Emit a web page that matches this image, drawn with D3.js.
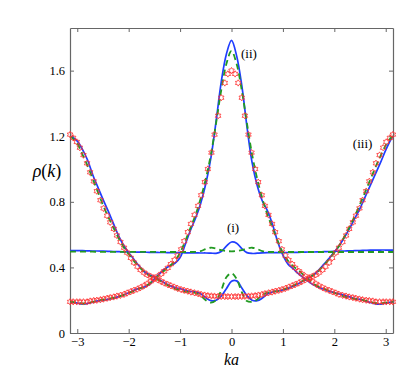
<!DOCTYPE html>
<html>
<head>
<meta charset="utf-8">
<script src="https://cdn.jsdelivr.net/npm/d3@7"></script>
<style>
  body { margin: 0; background: #fff; }
</style>
</head>
<body>
<div id="chart"></div>
<script>
// k grid for the solid / dashed curves
const kLine = [-3.1416, -3.1, -3.0, -2.9, -2.8, -2.7, -2.6, -2.5, -2.4, -2.3, -2.2, -2.1, -2.0,
  -1.9, -1.8, -1.7, -1.6, -1.5, -1.4, -1.3, -1.2, -1.1, -1.0, -0.9, -0.8, -0.7, -0.6, -0.5,
  -0.4, -0.3, -0.2, -0.1, 0, 0.1, 0.2, 0.3, 0.4, 0.5, 0.6, 0.7, 0.8, 0.9, 1.0, 1.1, 1.2, 1.3,
  1.4, 1.5, 1.6, 1.7, 1.8, 1.9, 2.0, 2.1, 2.2, 2.3, 2.4, 2.5, 2.6, 2.7, 2.8, 2.9, 3.0, 3.1, 3.1416];

const blueI = [0.502, 0.502, 0.502, 0.502, 0.501, 0.500, 0.500, 0.499, 0.498, 0.497, 0.496, 0.495, 0.494,
  0.494, 0.493, 0.493, 0.492, 0.492, 0.491, 0.491, 0.490, 0.490, 0.490, 0.489, 0.489, 0.489, 0.488, 0.488,
  0.487, 0.486, 0.497, 0.530, 0.555, 0.548, 0.515, 0.490, 0.485, 0.487, 0.489, 0.490, 0.490, 0.490, 0.491, 0.491, 0.492, 0.492,
  0.493, 0.494, 0.494, 0.495, 0.496, 0.497, 0.498, 0.499, 0.500, 0.501, 0.502, 0.503, 0.504, 0.505, 0.505, 0.506, 0.506, 0.506, 0.506];

const greenI = [0.496, 0.496, 0.496, 0.496, 0.496, 0.496, 0.495, 0.495, 0.495, 0.495, 0.495, 0.495, 0.495,
  0.495, 0.495, 0.495, 0.495, 0.495, 0.494, 0.494, 0.494, 0.494, 0.494, 0.494, 0.494, 0.495, 0.500, 0.512,
  0.520, 0.515, 0.505, 0.500, 0.498, 0.500, 0.505, 0.515, 0.520, 0.512, 0.500, 0.495, 0.494, 0.494, 0.494, 0.494, 0.494, 0.494,
  0.494, 0.494, 0.494, 0.494, 0.494, 0.494, 0.494, 0.494, 0.494, 0.494, 0.494, 0.494, 0.494, 0.494, 0.494, 0.494, 0.494, 0.494, 0.494];

const blueII = [0.190, 0.188, 0.182, 0.177, 0.180, 0.188, 0.196, 0.200, 0.205, 0.212, 0.222, 0.232, 0.245,
  0.260, 0.272, 0.280, 0.295, 0.330, 0.362, 0.390, 0.410, 0.425, 0.460, 0.540, 0.625, 0.700, 0.790, 0.910,
  1.070, 1.290, 1.530, 1.700, 1.785, 1.690, 1.510, 1.260, 1.040, 0.900, 0.805, 0.745, 0.660, 0.555, 0.475, 0.420, 0.392, 0.362,
  0.337, 0.314, 0.292, 0.278, 0.265, 0.255, 0.246, 0.238, 0.230, 0.220, 0.210, 0.205, 0.196, 0.186, 0.178, 0.176, 0.182, 0.188, 0.190];

const greenII = [0.190, 0.190, 0.185, 0.180, 0.183, 0.190, 0.197, 0.203, 0.208, 0.214, 0.222, 0.232, 0.244,
  0.257, 0.270, 0.282, 0.300, 0.328, 0.355, 0.383, 0.408, 0.440, 0.490, 0.560, 0.640, 0.720, 0.820, 0.940,
  1.090, 1.280, 1.480, 1.640, 1.720, 1.640, 1.480, 1.280, 1.090, 0.940, 0.820, 0.720, 0.640, 0.560, 0.490, 0.440, 0.408, 0.383,
  0.355, 0.328, 0.300, 0.282, 0.270, 0.257, 0.244, 0.232, 0.222, 0.214, 0.208, 0.203, 0.197, 0.190, 0.183, 0.180, 0.185, 0.190, 0.190];

const blueIII = [1.200, 1.195, 1.170, 1.120, 1.055, 0.965, 0.890, 0.815, 0.745, 0.670, 0.595, 0.535, 0.490,
  0.450, 0.410, 0.375, 0.355, 0.342, 0.325, 0.305, 0.290, 0.277, 0.270, 0.260, 0.253, 0.250, 0.240, 0.215,
  0.197, 0.200, 0.225, 0.270, 0.315, 0.318, 0.275, 0.228, 0.200, 0.197, 0.213, 0.238, 0.250, 0.256, 0.263, 0.272, 0.285, 0.300,
  0.318, 0.335, 0.355, 0.385, 0.420, 0.455, 0.495, 0.535, 0.585, 0.640, 0.700, 0.760, 0.830, 0.900, 0.970, 1.040, 1.115, 1.180, 1.200];

const greenIII = [1.200, 1.190, 1.155, 1.090, 1.020, 0.940, 0.860, 0.780, 0.710, 0.645, 0.580, 0.525, 0.480,
  0.440, 0.405, 0.375, 0.350, 0.335, 0.320, 0.300, 0.285, 0.270, 0.260, 0.252, 0.250, 0.245, 0.228, 0.200,
  0.185, 0.200, 0.260, 0.340, 0.365, 0.330, 0.250, 0.195, 0.190, 0.205, 0.232, 0.247, 0.252, 0.256, 0.265, 0.275, 0.290, 0.305,
  0.320, 0.335, 0.355, 0.380, 0.415, 0.450, 0.490, 0.535, 0.590, 0.650, 0.715, 0.785, 0.860, 0.935, 1.010, 1.080, 1.145, 1.190, 1.200];

// k grid for the red markers
const kMark = [-3.14, -3.08, -3.01, -2.95, -2.88, -2.81, -2.75, -2.68, -2.62, -2.55, -2.49, -2.42, -2.36,
  -2.29, -2.23, -2.16, -2.09, -2.03, -1.96, -1.90, -1.83, -1.77, -1.70, -1.64, -1.57, -1.51, -1.44, -1.37,
  -1.31, -1.24, -1.18, -1.11, -1.05, -0.98, -0.92, -0.85, -0.79, -0.72, -0.65, -0.59, -0.52, -0.46, -0.39,
  -0.33, -0.26, -0.20, -0.13, -0.07, 0, 0.07, 0.13, 0.20, 0.26, 0.33, 0.39, 0.46, 0.52, 0.59, 0.65, 0.72,
  0.79, 0.85, 0.92, 0.98, 1.05, 1.11, 1.18, 1.24, 1.31, 1.37, 1.44, 1.51, 1.57, 1.64, 1.70, 1.77, 1.83,
  1.90, 1.96, 2.03, 2.09, 2.16, 2.23, 2.29, 2.36, 2.42, 2.49, 2.55, 2.62, 2.68, 2.75, 2.81, 2.88, 2.95,
  3.01, 3.08, 3.14];

const redII = [0.190, 0.190, 0.190, 0.190, 0.190, 0.190, 0.195, 0.198, 0.200, 0.203, 0.207, 0.212, 0.216,
  0.220, 0.225, 0.230, 0.236, 0.244, 0.252, 0.260, 0.268, 0.277, 0.288, 0.300, 0.315, 0.330, 0.345, 0.360,
  0.377, 0.397, 0.420, 0.445, 0.472, 0.510, 0.560, 0.615, 0.665, 0.720, 0.775, 0.840, 0.920, 1.000, 1.100,
  1.210, 1.325, 1.435, 1.525, 1.580, 1.600, 1.580, 1.525, 1.435, 1.325, 1.210, 1.100, 1.000, 0.920, 0.840, 0.775, 0.720,
  0.665, 0.615, 0.560, 0.510, 0.472, 0.445, 0.420, 0.397, 0.377, 0.360, 0.345, 0.330, 0.315, 0.300, 0.288, 0.277, 0.268,
  0.260, 0.252, 0.244, 0.236, 0.230, 0.225, 0.220, 0.216, 0.212, 0.207, 0.203, 0.200, 0.198, 0.195, 0.190, 0.190, 0.190,
  0.190, 0.190, 0.190];

const redIII = [1.210, 1.190, 1.165, 1.130, 1.085, 1.035, 0.980, 0.925, 0.865, 0.810, 0.760, 0.715, 0.675,
  0.635, 0.595, 0.555, 0.520, 0.490, 0.458, 0.430, 0.405, 0.385, 0.368, 0.355, 0.345, 0.335, 0.325, 0.315,
  0.305, 0.296, 0.288, 0.280, 0.272, 0.265, 0.260, 0.255, 0.250, 0.245, 0.240, 0.235, 0.231, 0.228, 0.226,
  0.225, 0.224, 0.223, 0.222, 0.222, 0.222, 0.222, 0.222, 0.223, 0.224, 0.225, 0.226, 0.228, 0.231, 0.235, 0.240, 0.245,
  0.250, 0.255, 0.260, 0.265, 0.272, 0.280, 0.288, 0.296, 0.305, 0.315, 0.325, 0.335, 0.345, 0.355, 0.368, 0.385, 0.405,
  0.430, 0.458, 0.490, 0.520, 0.555, 0.595, 0.635, 0.675, 0.715, 0.760, 0.810, 0.865, 0.925, 0.980, 1.035, 1.085, 1.130,
  1.165, 1.190, 1.210];

const xTicks = [-3, -2, -1, 0, 1, 2, 3];
const yTicks = [0, 0.4, 0.8, 1.2, 1.6];
const notes = [{text: "(ii)", k: 0.34, v: 1.68}, {text: "(i)", k: 0.03, v: 0.615}, {text: "(iii)", k: 2.55, v: 1.13}];

const width = 415, height = 374;
const plotLeft = 70, plotRight = 393, plotTop = 28, plotBottom = 333;
const serif = "'Times New Roman', 'Liberation Serif', 'DejaVu Serif', serif";

const svg = d3.select("#chart").append("svg")
  .attr("width", width)
  .attr("height", height)
  .style("font-family", serif);

const x = d3.scaleLinear().domain([-Math.PI, Math.PI]).range([plotLeft, plotRight]);
const y = d3.scaleLinear().domain([0, 1.86]).range([plotBottom, plotTop]);

const axisColor = "#666";

function styleAxis(g) {
  g.attr("font-family", null).attr("font-size", null);
  g.select(".domain").attr("stroke", axisColor).attr("stroke-width", 1.2);
  g.selectAll(".tick line").attr("stroke", axisColor).attr("stroke-width", 1);
  g.selectAll(".tick text").attr("fill", "#000").style("font-size", "12.5px").style("font-family", serif);
}

svg.append("g")
  .attr("transform", "translate(0," + plotBottom + ")")
  .call(d3.axisBottom(x).tickValues(xTicks).tickFormat(d3.format("d"))
    .tickSizeInner(-4).tickSizeOuter(0).tickPadding(4))
  .call(styleAxis);

svg.append("g")
  .attr("transform", "translate(0," + plotTop + ")")
  .call(d3.axisTop(x).tickValues(xTicks).tickFormat("").tickSizeInner(-4).tickSizeOuter(0))
  .call(styleAxis);

svg.append("g")
  .attr("transform", "translate(" + plotLeft + ",0)")
  .call(d3.axisLeft(y).tickValues(yTicks).tickFormat(d => d === 0 ? "0" : d.toFixed(1))
    .tickSizeInner(-4).tickSizeOuter(0).tickPadding(5))
  .call(styleAxis);

svg.append("g")
  .attr("transform", "translate(" + plotRight + ",0)")
  .call(d3.axisRight(y).tickValues(yTicks).tickFormat("").tickSizeInner(-4).tickSizeOuter(0))
  .call(styleAxis);

// curves
const line = d3.line()
  .x(d => x(d[0]))
  .y(d => y(d[1]))
  .curve(d3.curveCatmullRom.alpha(0.5));

const blueSeries = [blueI, blueII, blueIII];
const greenSeries = [greenI, greenII, greenIII];

svg.append("g").selectAll("path")
  .data(blueSeries)
  .enter()
  .append("path")
    .attr("d", vals => line(kLine.map((k, i) => [k, vals[i]])))
    .attr("fill", "none")
    .attr("stroke", "#1f3dff")
    .attr("stroke-width", 1.7);

svg.append("g").selectAll("path")
  .data(greenSeries)
  .enter()
  .append("path")
    .attr("d", vals => line(kLine.map((k, i) => [k, vals[i]])))
    .attr("fill", "none")
    .attr("stroke", "#229a22")
    .attr("stroke-width", 1.8)
    .attr("stroke-dasharray", "6,4");

// red hexagram markers
function hexagram(r) {
  const pts = d3.range(12).map(i => {
    const a = -Math.PI / 2 + i * Math.PI / 6;
    const rr = i % 2 === 0 ? r : r / Math.sqrt(3);
    return [rr * Math.cos(a), rr * Math.sin(a)];
  });
  return "M" + pts.map(p => p[0].toFixed(2) + "," + p[1].toFixed(2)).join("L") + "Z";
}
const markPath = hexagram(3.2);

[redII, redIII].forEach(vals => {
  svg.append("g").selectAll("path")
    .data(kMark.map((k, i) => [k, vals[i]]))
    .enter()
    .append("path")
      .attr("transform", d => "translate(" + x(d[0]) + "," + y(d[1]) + ")")
      .attr("d", markPath)
      .attr("fill", "none")
      .attr("stroke", "#ff3030")
      .attr("stroke-width", 0.8);
});

// annotations
svg.append("g").selectAll("text")
  .data(notes)
  .enter()
  .append("text")
    .attr("x", d => x(d.k))
    .attr("y", d => y(d.v))
    .attr("text-anchor", "middle")
    .style("font-size", "13px")
    .text(d => d.text);

// axis titles
svg.append("text")
  .attr("x", (plotLeft + plotRight) / 2)
  .attr("y", 365)
  .attr("text-anchor", "middle")
  .style("font-size", "16px")
  .style("font-style", "italic")
  .text("ka");

const yl = svg.append("text")
  .attr("x", 47)
  .attr("y", 177)
  .attr("text-anchor", "middle")
  .style("font-size", "18px");
yl.append("tspan").style("font-style", "italic").text("ρ");
yl.append("tspan").text("(");
yl.append("tspan").style("font-style", "italic").text("k");
yl.append("tspan").text(")");
</script>
</body>
</html>
